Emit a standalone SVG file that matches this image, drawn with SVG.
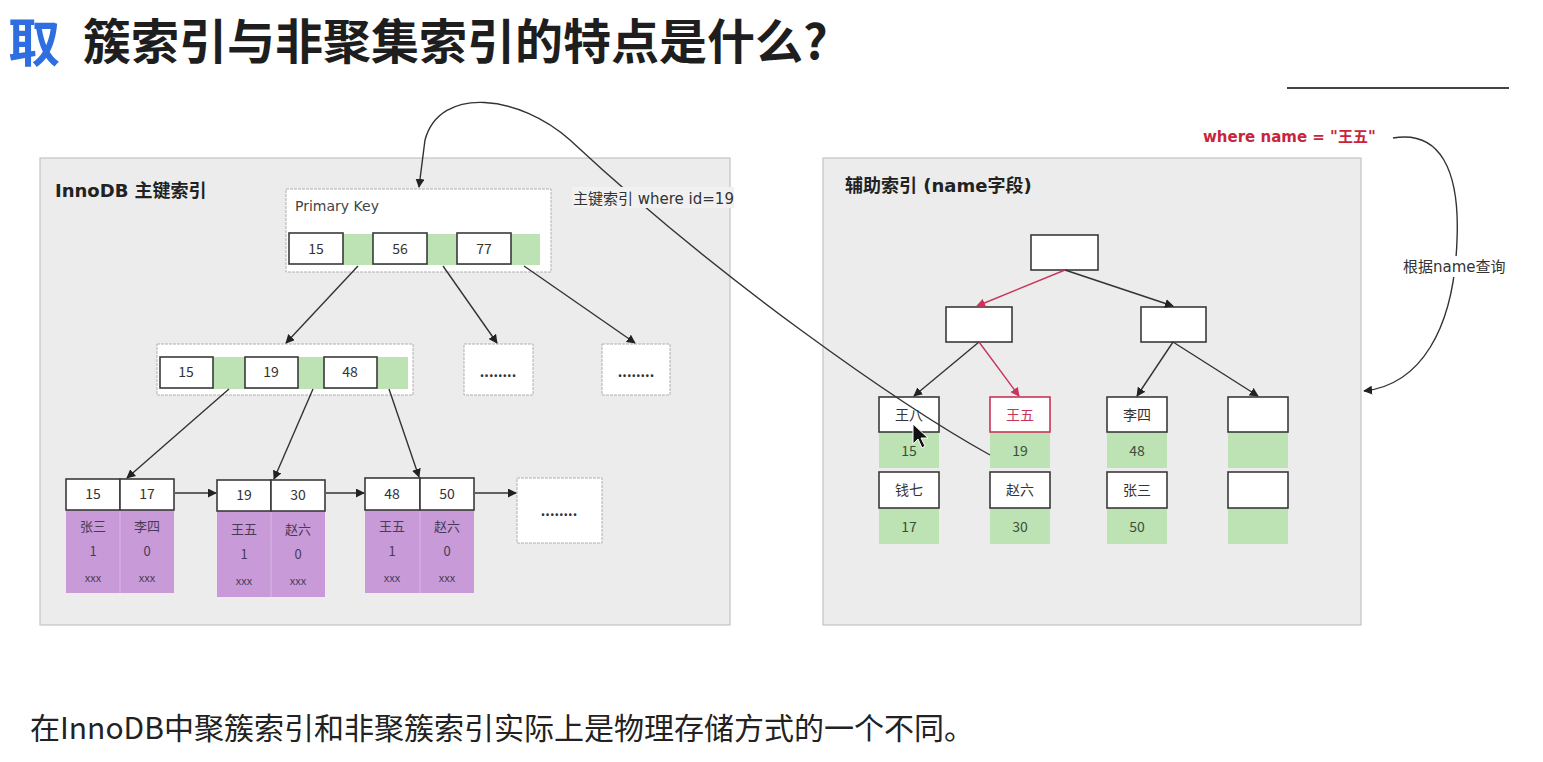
<svg xmlns="http://www.w3.org/2000/svg" width="1543" height="762" viewBox="0 0 1543 762">
<style>
text{font-family:"Noto Sans CJK SC","Liberation Sans",sans-serif;}
.lat{font-family:"DejaVu Sans","Noto Sans CJK SC",sans-serif;}
.panel{fill:#ececec;stroke:#c4c4c4;stroke-width:1.2;}
.outer{fill:#ffffff;stroke:#b0b0b0;stroke-width:1;stroke-dasharray:3 1;}
.key{fill:#ffffff;stroke:#3a3a3a;stroke-width:1.6;}
.green{fill:#bde2b4;}
.purple{fill:#c89bd8;}
.k{font-size:14px;fill:#333;text-anchor:middle;}
.p{font-size:13px;fill:#4a3a57;text-anchor:middle;}
.x{font-size:11px;fill:#4a3a57;text-anchor:middle;}
.g{font-size:14px;fill:#3b4f39;text-anchor:middle;}
.dots{font-size:14px;fill:#333;text-anchor:middle;font-weight:700;}
.ln{stroke:#333;stroke-width:1.4;fill:none;marker-end:url(#ah);}
.lr{stroke:#c8345a;stroke-width:1.4;fill:none;marker-end:url(#ahr);}
</style>
<defs>
<marker id="ah" viewBox="0 0 10 10" refX="9" refY="5" markerWidth="9" markerHeight="9" orient="auto" markerUnits="userSpaceOnUse"><path d="M0,0 L10,5 L0,10 z" fill="#222"/></marker>
<marker id="ahr" viewBox="0 0 10 10" refX="9" refY="5" markerWidth="9" markerHeight="9" orient="auto" markerUnits="userSpaceOnUse"><path d="M0,0 L10,5 L0,10 z" fill="#c8345a"/></marker>
</defs>
<rect x="0" y="0" width="1543" height="762" fill="#ffffff"/>

<g id="title">
<text x="8" y="62" font-size="52" font-weight="700" fill="#2f6ee0">取</text>
<text x="83" y="59" font-size="48" font-weight="700" fill="#1e1e1e">簇索引与非聚集索引的特点是什么?</text>
<line x1="1287" y1="88" x2="1509" y2="88" stroke="#444" stroke-width="2"/>
</g>

<g id="left-panel">
<rect class="panel" x="40" y="158" width="690" height="467"/>
<text class="lat" x="55" y="197" font-size="18" font-weight="700" fill="#222">InnoDB 主键索引</text>
</g>

<g id="pk-node">
<rect class="outer" x="286" y="189" width="265" height="83"/>
<text class="lat" x="295" y="211" font-size="14" fill="#444">Primary Key</text>
<rect class="green" x="343" y="234" width="197" height="31"/>
<rect class="key" x="289" y="233" width="54" height="31"/>
<rect class="key" x="373" y="233" width="54" height="31"/>
<rect class="key" x="457" y="233" width="54" height="31"/>
<text class="k" x="316" y="254">15</text>
<text class="k" x="400" y="254">56</text>
<text class="k" x="484" y="254">77</text>
</g>

<g id="mid-node">
<rect class="outer" x="157" y="344" width="256" height="51"/>
<rect class="green" x="212" y="357" width="196" height="32"/>
<rect class="key" x="160" y="357" width="53" height="31"/>
<rect class="key" x="245" y="357" width="53" height="31"/>
<rect class="key" x="324" y="357" width="53" height="31"/>
<text class="k" x="186" y="377">15</text>
<text class="k" x="271" y="377">19</text>
<text class="k" x="350" y="377">48</text>
</g>

<g id="dots-1">
<rect class="outer" x="464" y="344" width="69" height="51"/>
<text class="dots" x="498" y="377">........</text>
</g>
<g id="dots-2">
<rect class="outer" x="602" y="344" width="68" height="51"/>
<text class="dots" x="636" y="377">........</text>
</g>

<g id="leaf-1">
<rect class="purple" x="66" y="510" width="108" height="83"/>
<line x1="120" y1="510" x2="120" y2="593" stroke="#d8b8e4" stroke-width="1"/>
<rect class="key" x="66" y="479" width="54" height="31"/>
<rect class="key" x="120" y="479" width="54" height="31"/>
<text class="k" x="93" y="499">15</text>
<text class="k" x="147" y="499">17</text>
<text class="p" x="93" y="531">张三</text>
<text class="p" x="147" y="531">李四</text>
<text class="p" x="93" y="556">1</text>
<text class="p" x="147" y="556">0</text>
<text class="x" x="93" y="582">xxx</text>
<text class="x" x="147" y="582">xxx</text>
</g>

<g id="leaf-2">
<rect class="purple" x="217" y="511" width="108" height="86"/>
<line x1="271" y1="511" x2="271" y2="597" stroke="#d8b8e4" stroke-width="1"/>
<rect class="key" x="217" y="480" width="54" height="31"/>
<rect class="key" x="271" y="480" width="54" height="31"/>
<text class="k" x="244" y="500">19</text>
<text class="k" x="298" y="500">30</text>
<text class="p" x="244" y="534">王五</text>
<text class="p" x="298" y="534">赵六</text>
<text class="p" x="244" y="559">1</text>
<text class="p" x="298" y="559">0</text>
<text class="x" x="244" y="585">xxx</text>
<text class="x" x="298" y="585">xxx</text>
</g>

<g id="leaf-3">
<rect class="purple" x="365" y="510" width="109" height="83"/>
<line x1="420" y1="510" x2="420" y2="593" stroke="#d8b8e4" stroke-width="1"/>
<rect class="key" x="365" y="478" width="55" height="32"/>
<rect class="key" x="420" y="478" width="54" height="32"/>
<text class="k" x="392" y="499">48</text>
<text class="k" x="447" y="499">50</text>
<text class="p" x="392" y="531">王五</text>
<text class="p" x="447" y="531">赵六</text>
<text class="p" x="392" y="556">1</text>
<text class="p" x="447" y="556">0</text>
<text class="x" x="392" y="582">xxx</text>
<text class="x" x="447" y="582">xxx</text>
</g>

<g id="dots-3">
<rect class="outer" x="517" y="478" width="85" height="65"/>
<text class="dots" x="559" y="516">........</text>
</g>

<g id="right-panel">
<rect class="panel" x="823" y="158" width="538" height="467"/>
<text class="lat" x="845" y="192" font-size="18" font-weight="700" fill="#222">辅助索引 (name字段)</text>
</g>

<g id="sec-root"><rect class="key" x="1031" y="235" width="67" height="35"/></g>
<g id="sec-left"><rect class="key" x="946" y="307" width="66" height="35"/></g>
<g id="sec-right"><rect class="key" x="1141" y="307" width="65" height="35"/></g>

<g id="sec-leaf-1">
<rect class="green" x="879" y="432" width="60" height="36"/>
<rect class="green" x="879" y="508" width="60" height="36"/>
<rect class="key" x="879" y="397" width="60" height="35"/>
<rect class="key" x="879" y="472" width="60" height="36"/>
<text class="k" x="909" y="420">王八</text>
<text class="g" x="909" y="456">15</text>
<text class="k" x="909" y="495">钱七</text>
<text class="g" x="909" y="532">17</text>
</g>
<g id="sec-leaf-2">
<rect class="green" x="990" y="432" width="60" height="36"/>
<rect class="green" x="990" y="508" width="60" height="36"/>
<rect x="990" y="397" width="60" height="35" fill="#fff" stroke="#c8345a" stroke-width="1.6"/>
<rect class="key" x="990" y="472" width="60" height="36"/>
<text x="1020" y="420" font-size="14" fill="#c8345a" text-anchor="middle">王五</text>
<text class="g" x="1020" y="456">19</text>
<text class="k" x="1020" y="495">赵六</text>
<text class="g" x="1020" y="532">30</text>
</g>
<g id="sec-leaf-3">
<rect class="green" x="1107" y="432" width="60" height="36"/>
<rect class="green" x="1107" y="508" width="60" height="36"/>
<rect class="key" x="1107" y="397" width="60" height="35"/>
<rect class="key" x="1107" y="472" width="60" height="36"/>
<text class="k" x="1137" y="420">李四</text>
<text class="g" x="1137" y="456">48</text>
<text class="k" x="1137" y="495">张三</text>
<text class="g" x="1137" y="532">50</text>
</g>
<g id="sec-leaf-4">
<rect class="green" x="1228" y="432" width="60" height="36"/>
<rect class="green" x="1228" y="508" width="60" height="36"/>
<rect class="key" x="1228" y="397" width="60" height="35"/>
<rect class="key" x="1228" y="472" width="60" height="36"/>
</g>

<g id="query">
<text class="lat" x="1203" y="142" font-size="15" font-weight="700" fill="#c8243c">where name = "王五"</text>
</g>

<g id="connectors">
<line class="ln" x1="358" y1="266" x2="286" y2="343"/>
<line class="ln" x1="443" y1="266" x2="497" y2="343"/>
<line class="ln" x1="524" y1="266" x2="635" y2="343"/>
<line class="ln" x1="229" y1="389" x2="127" y2="478"/>
<line class="ln" x1="313" y1="389" x2="274" y2="479"/>
<line class="ln" x1="389" y1="389" x2="419" y2="477"/>
<line class="ln" x1="175" y1="493" x2="216" y2="493"/>
<line class="ln" x1="326" y1="493" x2="364" y2="493"/>
<line class="ln" x1="475" y1="493" x2="516" y2="493"/>
<line class="lr" x1="1065" y1="270" x2="977" y2="306"/>
<line class="ln" x1="1065" y1="270" x2="1173" y2="306"/>
<line class="ln" x1="979" y1="342" x2="914" y2="396"/>
<line class="lr" x1="979" y1="342" x2="1019" y2="396"/>
<line class="ln" x1="1173" y1="342" x2="1137" y2="396"/>
<line class="ln" x1="1173" y1="342" x2="1258" y2="396"/>
<path class="ln" d="M990 455 C900 405 720 280 570 140 C520 95 440 85 425 140 L419 187"/>
<path class="ln" d="M1393 138 C1440 130 1460 170 1457 240 C1454 330 1420 385 1364 391"/>
<rect x="572" y="187" width="162" height="21" fill="#f1f1f1"/>
<text class="lat" x="573" y="204" font-size="15" fill="#333">主键索引 where id=19</text>
<rect x="1402" y="256" width="106" height="21" fill="#ffffff"/>
<text class="lat" x="1403" y="272" font-size="15" fill="#333">根据name查询</text>
</g>

<g id="cursor">
<path d="M913 424 L913 444 L918 439 L922 448 L925 446 L921 438 L928 438 Z" fill="#111" stroke="#fff" stroke-width="1"/>
</g>

<g id="footer">
<text x="30" y="739" font-size="30" fill="#222">在InnoDB中聚簇索引和非聚簇索引实际上是物理存储方式的一个不同。</text>
</g>
</svg>
